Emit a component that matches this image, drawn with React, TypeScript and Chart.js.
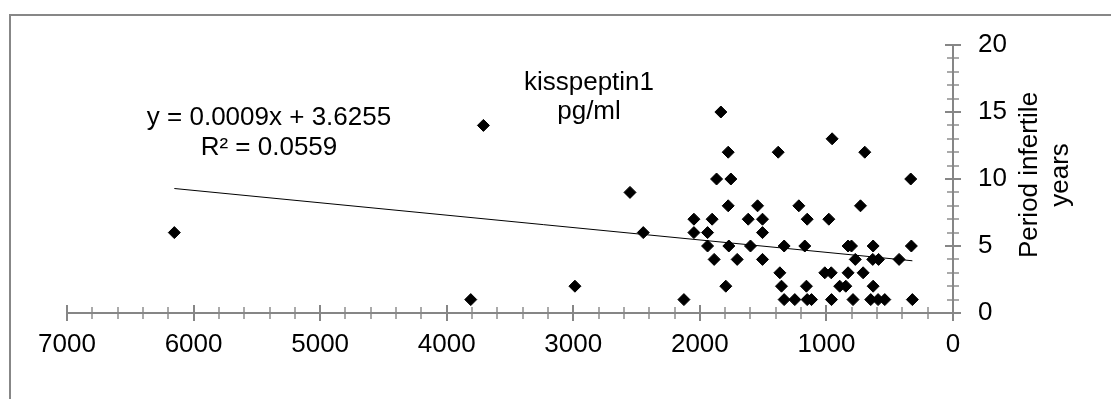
import React, { useEffect, useRef } from 'react';
import { Chart, registerables } from 'chart.js';

Chart.register(...registerables);

// Data: kisspeptin1 (pg/ml) vs period infertile (years)
const kisspeptinPgMl = [
  1834,
  3710,
  955,
  1776, 1381, 697,
  1868, 1755, 334,
  2552,
  1776, 1544, 1218, 731,
  2047, 1903, 1618, 1505, 1152, 981,
  6152, 2447, 2047, 1939, 1505,
  1939, 1771, 1600, 1334, 1171, 829, 802, 631, 329,
  1887, 1705, 1505, 772, 634, 588, 426,
  1368, 1013, 962, 829, 710,
  2987, 1795, 1355, 1158, 895, 847, 631,
  3810, 2126, 1334, 1250, 1152, 1118, 960, 790, 650, 592, 539, 321,
];
const periodInfertileYears = [
  15,
  14,
  13,
  12, 12, 12,
  10, 10, 10,
  9,
  8, 8, 8, 8,
  7, 7, 7, 7, 7, 7,
  6, 6, 6, 6, 6,
  5, 5, 5, 5, 5, 5, 5, 5, 5,
  4, 4, 4, 4, 4, 4, 4,
  3, 3, 3, 3, 3,
  2, 2, 2, 2, 2, 2, 2,
  1, 1, 1, 1, 1, 1, 1, 1, 1, 1, 1, 1,
];

const TREND_SLOPE = 0.000925;
const TREND_INTERCEPT = 3.6;
const equationLines = ['y = 0.0009x + 3.6255', 'R² = 0.0559'];
const titleLines = ['kisspeptin1', 'pg/ml'];
const yTitleLines = ['Period infertile', 'years'];

const X_MIN = 0;
const X_MAX = 7000;
const X_MAJOR = 1000;
const X_MINOR = 200;
const Y_MIN = 0;
const Y_MAX = 20;
const Y_MAJOR = 5;
const Y_MINOR = 1;

const FONT_FAMILY = '"Liberation Sans", Arial, sans-serif';
const AXIS_COLOR = '#868686';

const decorPlugin = {
  id: 'decor',
  beforeDraw(chart: any) {
    const ctx = chart.ctx;
    ctx.save();
    ctx.fillStyle = '#ffffff';
    ctx.fillRect(0, 0, chart.width, chart.height);
    ctx.strokeStyle = '#878787';
    ctx.lineWidth = 2;
    ctx.beginPath();
    ctx.moveTo(10, chart.height + 5);
    ctx.lineTo(10, 15);
    ctx.lineTo(chart.width + 5, 15);
    ctx.stroke();
    ctx.restore();
  },
  beforeDatasetsDraw(chart: any) {
    const xs = chart.scales.x;
    const ys = chart.scales.y;
    const ctx = chart.ctx;
    const y0 = ys.getPixelForValue(0);
    const x0 = xs.getPixelForValue(0);
    ctx.save();
    ctx.strokeStyle = AXIS_COLOR;
    ctx.lineWidth = 2;
    ctx.beginPath();
    ctx.moveTo(xs.getPixelForValue(X_MAX), y0);
    ctx.lineTo(x0, y0);
    ctx.moveTo(x0, y0);
    ctx.lineTo(x0, ys.getPixelForValue(Y_MAX));
    ctx.stroke();
    for (let v = X_MIN; v <= X_MAX; v += X_MINOR) {
      const p = Math.round(xs.getPixelForValue(v));
      const major = v % X_MAJOR === 0;
      const h = major ? 8 : 6;
      ctx.lineWidth = major ? 2 : 1.4;
      ctx.beginPath();
      ctx.moveTo(p, y0 - h);
      ctx.lineTo(p, y0 + h);
      ctx.stroke();
    }
    for (let v = Y_MIN; v <= Y_MAX; v += Y_MINOR) {
      const p = Math.round(ys.getPixelForValue(v));
      const major = v % Y_MAJOR === 0;
      const h = major ? 8 : 6;
      ctx.lineWidth = major ? 2 : 1.4;
      ctx.beginPath();
      ctx.moveTo(x0 - h, p);
      ctx.lineTo(x0 + h, p);
      ctx.stroke();
    }
    ctx.restore();
  },
  afterDraw(chart: any) {
    const ctx = chart.ctx;
    ctx.save();
    ctx.fillStyle = '#000000';
    ctx.font = `26px ${FONT_FAMILY}`;
    ctx.textAlign = 'center';
    ctx.textBaseline = 'alphabetic';
    ctx.fillText(titleLines[0], 589, 90);
    ctx.fillText(titleLines[1], 589, 118.5);
    ctx.fillText(equationLines[0], 269, 124.5);
    ctx.fillText(equationLines[1], 269, 154.5);
    ctx.translate(1037, 175);
    ctx.rotate(-Math.PI / 2);
    ctx.fillText(yTitleLines[0], 0, 0);
    ctx.fillText(yTitleLines[1], 0, 31);
    ctx.restore();
  },
};

export default function App() {
  const canvasRef = useRef<HTMLCanvasElement | null>(null);

  useEffect(() => {
    const canvas = canvasRef.current;
    if (!canvas) return;
    const points = kisspeptinPgMl.map((x, i) => ({ x, y: periodInfertileYears[i] }));
    const xLo = Math.min(...kisspeptinPgMl);
    const xHi = Math.max(...kisspeptinPgMl);
    const trend = [
      { x: xHi, y: TREND_INTERCEPT + TREND_SLOPE * xHi },
      { x: xLo, y: TREND_INTERCEPT + TREND_SLOPE * xLo },
    ];
    const chart = new Chart(canvas, {
      type: 'scatter',
      data: {
        datasets: [
          {
            label: 'trend',
            data: trend,
            showLine: true,
            borderColor: '#000000',
            borderWidth: 1,
            pointRadius: 0,
            fill: false,
          } as any,
          {
            label: 'kisspeptin1',
            data: points,
            pointStyle: 'rectRot',
            pointRadius: 6,
            pointBorderWidth: 1,
            backgroundColor: '#000000',
            borderColor: '#000000',
          } as any,
        ],
      },
      options: {
        responsive: false,
        animation: false,
        devicePixelRatio: 1,
        layout: { padding: { left: 67, top: 45, right: 0, bottom: 0 } },
        plugins: {
          legend: { display: false },
          tooltip: { enabled: false },
          title: { display: false },
        },
        scales: {
          x: {
            type: 'linear',
            reverse: true,
            min: X_MIN,
            max: X_MAX,
            ticks: {
              stepSize: X_MAJOR,
              color: '#000000',
              padding: 16,
              maxRotation: 0,
              autoSkip: false,
              font: { family: FONT_FAMILY, size: 26 },
              callback: (v: any) => String(v),
            },
            grid: { color: 'rgba(0,0,0,0)', drawTicks: false },
            border: { display: false },
            afterFit: (s: any) => {
              s.height = 86;
            },
          },
          y: {
            type: 'linear',
            position: 'right',
            min: Y_MIN,
            max: Y_MAX,
            ticks: {
              stepSize: Y_MAJOR,
              color: '#000000',
              padding: 25,
              font: { family: FONT_FAMILY, size: 26 },
              callback: (v: any) => String(v),
            },
            grid: { color: 'rgba(0,0,0,0)', drawTicks: false },
            border: { display: false },
            afterFit: (s: any) => {
              s.width = 158;
            },
          },
        },
      },
      plugins: [decorPlugin],
    });
    return () => chart.destroy();
  }, []);

  return (
    <div style={{ position: 'absolute', left: 0, top: 0, width: 1111, height: 399, background: '#fff' }}>
      <canvas ref={canvasRef} width={1111} height={399} style={{ display: 'block', width: 1111, height: 399 }} />
    </div>
  );
}
